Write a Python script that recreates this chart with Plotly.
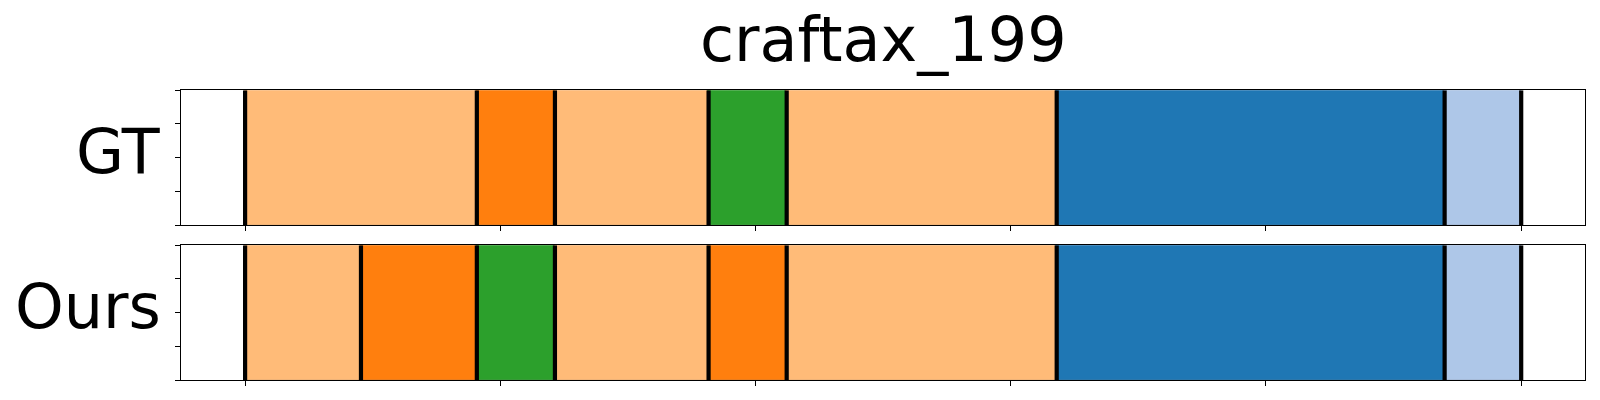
import plotly.graph_objects as go

# ---- data ----
title_text = "craftax_199"
row_names = ["GT", "Ours"]

gt_bounds = [0, 45.4, 60.7, 90.8, 106.1, 159.0, 235.0, 250.0]
gt_classes = [1, 0, 1, 2, 1, 3, 4]

ours_bounds = [0, 22.7, 45.4, 60.7, 90.8, 106.1, 159.0, 235.0, 250.0]
ours_classes = [1, 0, 2, 1, 0, 1, 3, 4]

x_ticks = [0, 50, 100, 150, 200, 250]
y_ticks = [0, 0.25, 0.5, 0.75, 1.0]

palette = {0: "#ff7f0e", 1: "#ffbb78", 2: "#2ca02c", 3: "#1f77b4", 4: "#aec7e8"}
edge = {0: "#e0700c", 1: "#e8a86a", 2: "#278d27", 3: "#1b69a0", 4: "#9ab0cf"}

rows = [(gt_bounds, gt_classes), (ours_bounds, ours_classes)]

W, H = 1600, 400


def px_x(v):
    return v / W


def px_y(v):
    return 1 - v / H


fig = go.Figure()

x_dom = [px_x(181.3), px_x(1585)]
y_doms = [[px_y(225), px_y(90.3)], [px_y(380), px_y(245.3)]]

for i, (bounds, classes) in enumerate(rows):
    xa = "x" if i == 0 else "x2"
    ya = "y" if i == 0 else "y2"
    for s, e, c in zip(bounds[:-1], bounds[1:], classes):
        fig.add_trace(go.Bar(
            y=[0.5], x=[e - s], base=[s], width=[1.0], orientation="h",
            marker=dict(color=palette[c], line=dict(color=edge[c], width=1)),
            xaxis=xa, yaxis=ya, showlegend=False, hoverinfo="skip",
        ))
    lx, ly = [], []
    for b in bounds:
        lx += [b, b, None]
        ly += [0, 1, None]
    fig.add_trace(go.Scatter(
        x=lx, y=ly, mode="lines", line=dict(color="black", width=4.2),
        xaxis=xa, yaxis=ya, showlegend=False, hoverinfo="skip",
    ))

axis_common = dict(
    showgrid=False, zeroline=False, showline=True, linecolor="black",
    linewidth=1.1, mirror=True, ticks="outside", ticklen=5, tickwidth=1.1,
    tickcolor="black", showticklabels=False,
)

fig.update_layout(
    width=W, height=H,
    margin=dict(l=0, r=0, t=0, b=0),
    paper_bgcolor="white", plot_bgcolor="white",
    barmode="overlay", bargap=0,
    xaxis=dict(domain=x_dom, range=[-12.5, 262.5], tickvals=x_ticks, anchor="y", **axis_common),
    yaxis=dict(domain=y_doms[0], range=[0, 1], tickvals=y_ticks, anchor="x", **axis_common),
    xaxis2=dict(domain=x_dom, range=[-12.5, 262.5], tickvals=x_ticks, anchor="y2", matches="x", **axis_common),
    yaxis2=dict(domain=y_doms[1], range=[0, 1], tickvals=y_ticks, anchor="x2", **axis_common),
    font=dict(family="DejaVu Sans", color="black"),
)

for i, name in enumerate(row_names):
    yc = (y_doms[i][0] + y_doms[i][1]) / 2
    fig.add_annotation(
        text=name, xref="paper", yref="paper", x=x_dom[0], y=yc,
        xanchor="right", yanchor="middle", xshift=-18, yshift=6.5,
        showarrow=False, font=dict(size=62, family="DejaVu Sans", color="black"),
    )

fig.add_annotation(
    text=title_text, xref="paper", yref="paper", x=(x_dom[0] + x_dom[1]) / 2, y=px_y(78),
    xanchor="center", yanchor="bottom", showarrow=False,
    font=dict(size=62, family="DejaVu Sans", color="black"),
)

fig.write_html(
    "out.html",
    config={"displayModeBar": False},
    post_script="document.body.style.margin='0';document.body.style.overflow='hidden';",
)
